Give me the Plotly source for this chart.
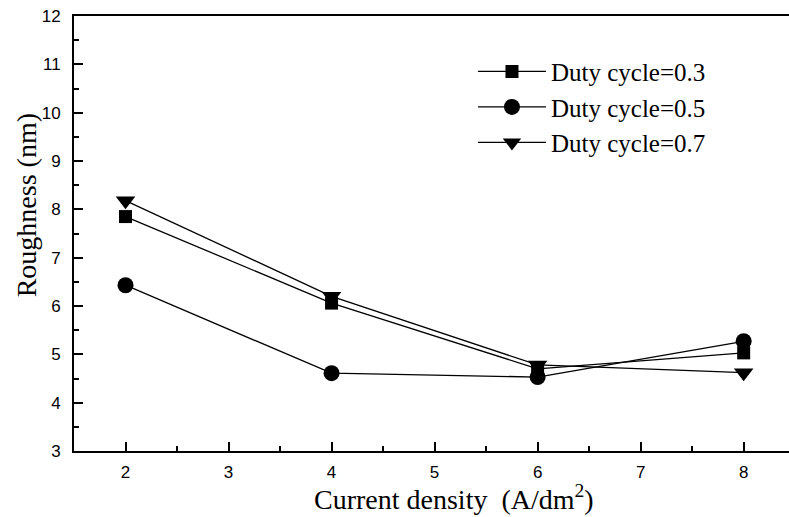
import plotly.graph_objects as go

current_density = [2, 4, 6, 8]
duty_03 = [7.85, 6.06, 4.70, 5.03]
duty_05 = [6.43, 4.61, 4.53, 5.27]
duty_07 = [8.18, 6.20, 4.78, 4.62]
series_names = ["Duty cycle=0.3", "Duty cycle=0.5", "Duty cycle=0.7"]
x_ticks = [2, 3, 4, 5, 6, 7, 8]
y_ticks = [3, 4, 5, 6, 7, 8, 9, 10, 11, 12]
x_title = "Current density  (A/dm<sup>2</sup>)"
y_title = "Roughness (nm)"

SERIF = "Times New Roman, Liberation Serif, serif"
SANS = "Arial, Liberation Sans, sans-serif"

fig = go.Figure()
for name, vals, sym, size in [
    (series_names[0], duty_03, "square", 13),
    (series_names[1], duty_05, "circle", 16),
    (series_names[2], duty_07, "triangle-down", 17),
]:
    fig.add_trace(go.Scatter(
        x=current_density, y=vals, name=name, mode="lines+markers",
        line=dict(color="black", width=1.3),
        marker=dict(symbol=sym, size=size, color="black", line=dict(width=0)),
    ))

axis_common = dict(
    showgrid=False, zeroline=False, showline=True, linecolor="black", linewidth=2,
    ticks="inside", ticklen=9, tickwidth=1.5, tickcolor="black",
    tickfont=dict(family=SANS, size=17, color="black"),
)

fig.update_layout(
    width=789, height=517,
    margin=dict(l=74, r=0, t=16, b=66),
    plot_bgcolor="white", paper_bgcolor="white",
    xaxis=dict(range=[1.5, 8.44], tickvals=x_ticks, mirror=True, ticklabelstandoff=5,
               minor=dict(ticks="inside", ticklen=5, tickwidth=1.5, tickcolor="black", dtick=0.5),
               **axis_common),
    yaxis=dict(range=[3, 12], tickvals=y_ticks, mirror=False, ticklabelstandoff=8,
               minor=dict(ticks="inside", ticklen=5, tickwidth=1.5, tickcolor="black", dtick=0.5),
               **axis_common),
    legend=dict(x=0.558, y=0.925, xanchor="left", yanchor="top",
                font=dict(family=SERIF, size=25, color="black"),
                bgcolor="rgba(0,0,0,0)", itemwidth=68, tracegroupgap=0),
    showlegend=True,
    annotations=[
        dict(text=x_title, xref="paper", yref="paper", x=0.531, y=-0.108,
             xanchor="center", yanchor="middle", showarrow=False,
             font=dict(family=SERIF, size=28, color="black")),
        dict(text=y_title, xref="paper", yref="paper", x=-0.067, y=0.565,
             xanchor="center", yanchor="middle", showarrow=False, textangle=-90,
             font=dict(family=SERIF, size=28, color="black")),
    ],
)

fig.write_html("out.html")
